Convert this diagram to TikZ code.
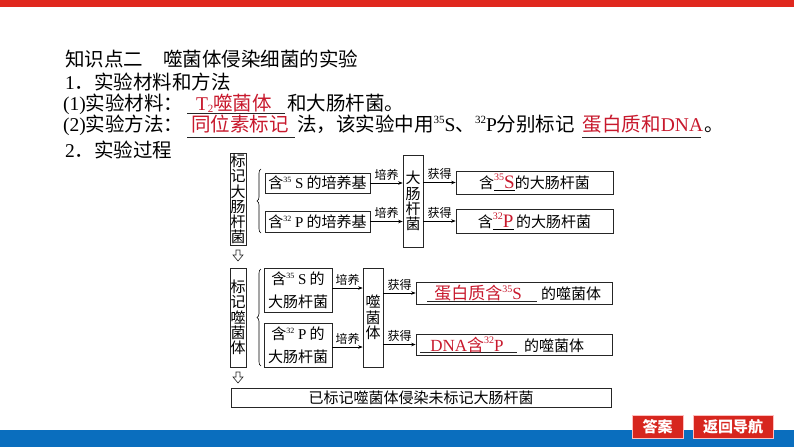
\documentclass[tikz,border=0pt]{standalone}
\usepackage{fontspec}
\setmainfont{Noto Sans CJK SC}
\newfontfamily\tnr{Liberation Serif}
\usetikzlibrary{arrows.meta,decorations.pathreplacing}
\definecolor{hl}{RGB}{200,25,45}
\definecolor{topred}{RGB}{224,40,30}
\definecolor{barblue}{RGB}{10,110,190}
\definecolor{btnred}{RGB}{215,38,30}
\newcommand\supx[3]{{\tnr\raisebox{#2}{\fontsize{#1}{#1}\selectfont #3}}}
\newcommand\fsH{\fontsize{19.5}{22}\selectfont}
\newcommand\fsB{\fontsize{15}{15.3}\selectfont}
\begin{document}
\begin{tikzpicture}[x=1pt,y=-1pt,
  hd/.style={anchor=base west,inner sep=0pt,font=\fsH},
  hdr/.style={anchor=base,inner sep=0pt,font=\fsH,text=hl},
  box/.style={draw=black!85,line width=0.7pt,inner sep=0pt,font=\fsB,align=center},
  lab/.style={inner sep=0pt,font=\fontsize{12}{12}\selectfont},
  arr/.style={-{Stealth[length=4.5pt,width=3.5pt]},line width=0.6pt},
  blank/.style={line width=0.7pt,black!85},
  brc/.style={decorate,decoration={brace,amplitude=4pt},line width=0.6pt},
  hollow/.style={line width=0.6pt,black!85},
  btn/.style={fill=btnred,draw=red!25,line width=0.8pt,text=white,inner sep=0pt,font=\fontsize{15}{15}\selectfont\bfseries}]
\path[use as bounding box] (0,0) rectangle (794,447);
\fill[white] (0,0) rectangle (794,447);
\fill[topred] (0,0) rectangle (794,7);
\fill[barblue] (0,430) rectangle (794,447);

% header text
\node[hd] (h1a) at (65,66.4) {知识点二};
\node[hd] (h1b) at (163,66.4) {噬菌体侵染细菌的实验};
\node[hd] (h2) at (65,89.4) {{\tnr 1}．实验材料和方法};
\node[hd] (h3a) at (63,110.5) {{\tnr (1)}实验材料：\kern-8pt};
\draw[blank] (187,113.5) -- (285,113.5);
\node[hdr] (h3r) at (234,110.5) {{\tnr T\raisebox{-1.5pt}{\fontsize{11}{11}\selectfont 2}}噬菌体};
\node[hd] (h3b) at (287,110.5) {和大肠杆菌。};
\node[hd] (h4a) at (63,131.6) {{\tnr (2)}实验方法：\kern-8pt};
\draw[blank] (187,137) -- (295,137);
\node[hdr] (h4r) at (240,131.6) {同位素标记};
\node[hd] (h4b) at (297,131.6) {法，该实验中用{\tnr\supx{11}{8.5pt}{35}S}、{\tnr\supx{11}{8.5pt}{32}P}分别标记};
\draw[blank] (582,137) -- (701,137);
\node[hdr] (h4s) at (643,131.6) {蛋白质和{\tnr DNA}};
\node[hd] (h4c) at (704,131.6) {。};
\node[hd] (h5) at (65,157.4) {{\tnr 2}．实验过程};

% section 1
\node[box,minimum width=16pt,minimum height=92pt] (l1) at (238,199) {标\\记\\大\\肠\\杆\\菌};
\draw[brc] (261,233) -- (261,169);
\node[box,minimum width=105pt,minimum height=20pt] (a1) at (317.5,183) {含{\tnr\supx{8}{6pt}{35} S} 的培养基};
\node[box,minimum width=105pt,minimum height=21pt] (a2) at (317.5,221.5) {含{\tnr\supx{8}{6pt}{32} P} 的培养基};
\node[box,minimum width=20pt,minimum height=92pt] (dmc) at (413,201) {大\\肠\\杆\\菌};
\node[box,minimum width=157pt,minimum height=23pt] (b1) at (534.5,182.5) {含\underline{\textcolor{hl}{\supx{10}{8pt}{35}{\tnr\fontsize{19}{19}\selectfont S}}}的大肠杆菌};
\node[box,minimum width=157pt,minimum height=24pt] (b2) at (534.5,221) {含\underline{\textcolor{hl}{\supx{10}{8pt}{32}{\tnr\fontsize{19}{19}\selectfont P}}}\,的大肠杆菌};
\draw[arr] (a1.east) -- (a1.east -| dmc.west) node[lab,midway,above=2.5pt] (t1) {培养};
\draw[arr] (a2.east) -- (a2.east -| dmc.west) node[lab,midway,above=2.5pt] (t2) {培养};
\draw[arr] (dmc.east |- b1.west) -- (b1.west) node[lab,midway,above=2.5pt] (g1) {获得};
\draw[arr] (dmc.east |- b2.west) -- (b2.west) node[lab,midway,above=2.5pt] (g2) {获得};

% hollow down arrow 1
\draw[hollow] (236,250) -- (240,250) -- (240,255) -- (243,255) -- (238,261) -- (233,255) -- (236,255) -- cycle;

% section 2
\node[box,minimum width=16pt,minimum height=99pt] (l2) at (238,317.5) {标\\记\\噬\\菌\\体};
\draw[brc] (261,366) -- (261,269);
\node[box,minimum width=68pt,minimum height=44pt,font=\fontsize{15}{23}\selectfont] (c1) at (298,290) {含{\tnr\supx{8}{6pt}{35} S} 的\\大肠杆菌};
\node[box,minimum width=68pt,minimum height=44pt,font=\fontsize{15}{23}\selectfont] (c2) at (298,345) {含{\tnr\supx{8}{6pt}{32} P} 的\\大肠杆菌};
\node[box,minimum width=20pt,minimum height=99pt] (sjt) at (373,317.5) {噬\\菌\\体};
\node[box,minimum width=196pt,minimum height=22pt] (d1) at (514,293) {};
\node[box,minimum width=196pt,minimum height=21pt] (d2) at (514,344.5) {};
\draw[blank] (427,301) -- (537,301);
\draw[blank] (420,352.5) -- (517,352.5);
\node[anchor=base,inner sep=0pt,text=hl,font=\fontsize{17}{17}\selectfont] (d1r) at (478,299.5) {蛋白质含{\tnr\supx{10}{7.5pt}{35}S}};
\node[anchor=base,inner sep=0pt,font=\fsB] (d1b) at (571,299.5) {的噬菌体};
\node[anchor=base,inner sep=0pt,text=hl,font=\fontsize{17}{17}\selectfont] (d2r) at (467,351) {{\tnr DNA}含{\tnr\supx{10}{7.5pt}{32}P}};
\node[anchor=base,inner sep=0pt,font=\fsB] (d2b) at (554,351) {的噬菌体};
\draw[arr] ([yshift=2pt]c1.east) -- ([yshift=2pt]c1.east -| sjt.west) node[lab,midway,above=2.5pt] (t3) {培养};
\draw[arr] ([yshift=-2pt]c2.east) -- ([yshift=-2pt]c2.east -| sjt.west) node[lab,midway,above=2.5pt] (t4) {培养};
\draw[arr] (sjt.east |- d1.west) -- (d1.west) node[lab,midway,above=2.5pt] (g3) {获得};
\draw[arr] (sjt.east |- d2.west) -- (d2.west) node[lab,midway,above=2.5pt] (g4) {获得};

% hollow down arrow 2
\draw[hollow] (236,372) -- (240,372) -- (240,377) -- (243,377) -- (238,383) -- (233,377) -- (236,377) -- cycle;

% final box
\node[box,minimum width=380pt,minimum height=19pt] (f) at (421,397.5) {已标记噬菌体侵染未标记大肠杆菌};

% buttons
\node[btn,minimum width=51pt,minimum height=23pt] (bt1) at (657.5,426.5) {答案};
\node[btn,minimum width=80pt,minimum height=23pt] (bt2) at (733,426.5) {返回导航};
\end{tikzpicture}
\end{document}
